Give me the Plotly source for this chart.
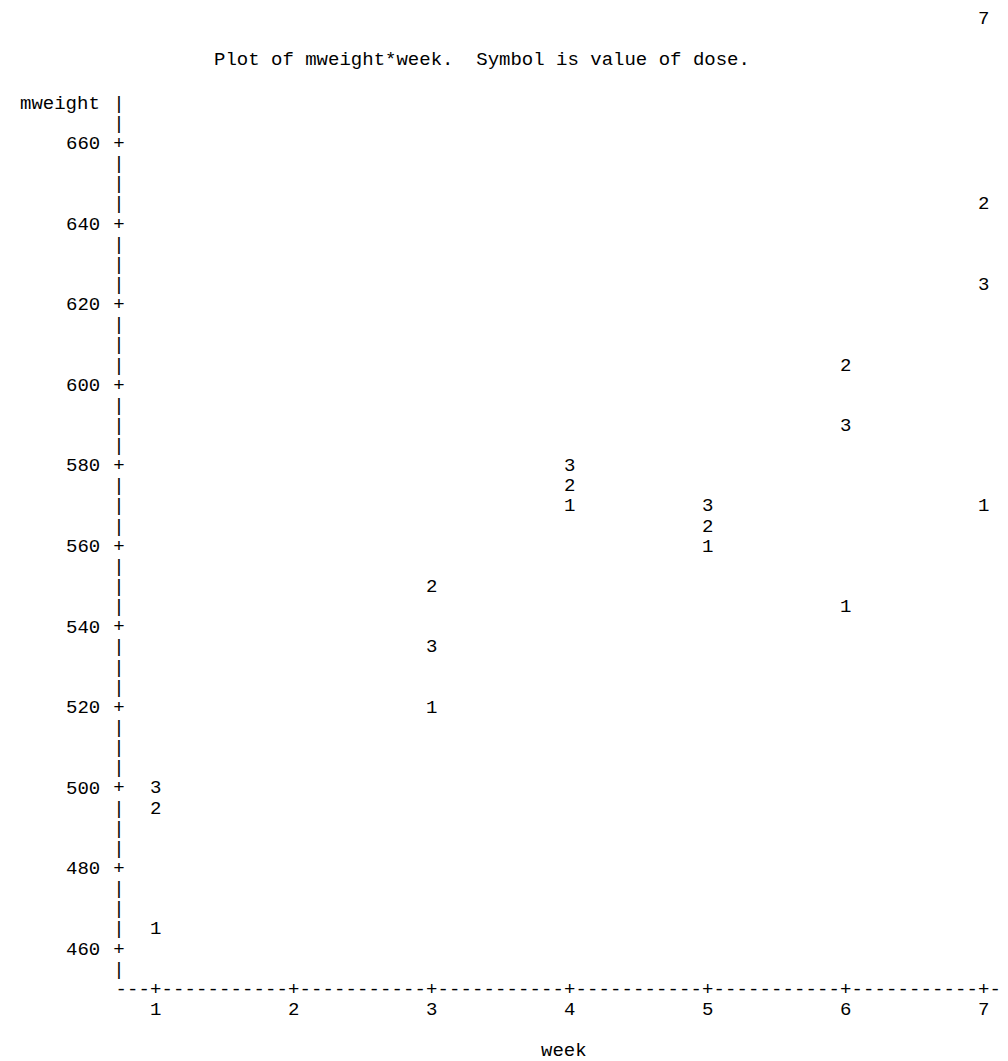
import plotly.graph_objects as go

# Mean weight by week for each dose group
weeks = [1, 3, 4, 5, 6, 7]
mweight_dose1 = [465, 520, 570, 560, 545, 570]
mweight_dose2 = [495, 550, 575, 565, 605, 645]
mweight_dose3 = [500, 535, 580, 570, 590, 625]
doses = ["1", "2", "3"]

x_ticks = [1, 2, 3, 4, 5, 6, 7]
y_ticks = [460, 480, 500, 520, 540, 560, 580, 600, 620, 640, 660]

title_text = "Plot of mweight*week.  Symbol is value of dose."
page_no = "7"

FONT = "Liberation Mono"
FS = 19
COL = 1 / 12          # one character cell along the week axis
ROW = 5               # one text line along the mweight axis
AXIS_X = 1 - 3.2 * COL
AXIS_Y = 450

fig = go.Figure()

# plot symbols: the dose value is drawn at each (week, mweight)
for d, ys in zip(doses, [mweight_dose1, mweight_dose2, mweight_dose3]):
    fig.add_trace(go.Scatter(
        x=weeks, y=ys, mode="text", text=[d] * len(weeks),
        textposition="middle center",
        textfont=dict(family=FONT, size=FS, color="black"),
        showlegend=False, hoverinfo="skip"))

# vertical axis made of '|' with '+' at the tick rows
v_rows = [AXIS_Y + ROW * i for i in range(1, 45)]
v_text = ["+" if r in y_ticks else "|" for r in v_rows]
fig.add_trace(go.Scatter(
    x=[AXIS_X] * len(v_rows), y=v_rows, mode="text", text=v_text,
    textposition="middle center",
    textfont=dict(family=FONT, size=FS, color="black"),
    showlegend=False, hoverinfo="skip"))

# horizontal axis made of '-' with '+' at the week ticks
h_cols = list(range(-3, 74))
h_x = [1 + k * COL for k in h_cols]
h_text = ["+" if (k % 12 == 0 and 0 <= k <= 72) else "-" for k in h_cols]
fig.add_trace(go.Scatter(
    x=h_x, y=[AXIS_Y] * len(h_x), mode="text", text=h_text,
    textposition="middle center",
    textfont=dict(family=FONT, size=FS, color="black"),
    showlegend=False, hoverinfo="skip"))

# week tick labels
fig.add_trace(go.Scatter(
    x=x_ticks, y=[AXIS_Y - ROW] * len(x_ticks), mode="text",
    text=[str(t) for t in x_ticks], textposition="middle center",
    textfont=dict(family=FONT, size=FS, color="black"),
    showlegend=False, hoverinfo="skip"))

annotations = []
label_right = AXIS_X - 1.5 * COL
for t in y_ticks:
    annotations.append(dict(x=label_right, y=t, text=str(t), xanchor="right",
                            yanchor="middle", showarrow=False))
annotations.append(dict(x=label_right, y=670, text="mweight", xanchor="right",
                        yanchor="middle", showarrow=False))
annotations.append(dict(x=1 + 35.5 * COL, y=435, text="week", xanchor="center",
                        yanchor="middle", showarrow=False))
annotations.append(dict(x=1.405, y=681, text=title_text, xanchor="left",
                        yanchor="middle", showarrow=False))
annotations.append(dict(x=7, y=691, text=page_no, xanchor="center",
                        yanchor="middle", showarrow=False))

fig.update_layout(
    width=1008, height=1061,
    margin=dict(l=0, r=0, t=0, b=0),
    paper_bgcolor="white", plot_bgcolor="white",
    font=dict(family=FONT, size=FS, color="black"),
    annotations=annotations,
    xaxis=dict(range=[-0.128, 7.176], visible=False, fixedrange=True),
    yaxis=dict(range=[432.4, 695.8], visible=False, fixedrange=True),
)

fig.write_html("out.html")
